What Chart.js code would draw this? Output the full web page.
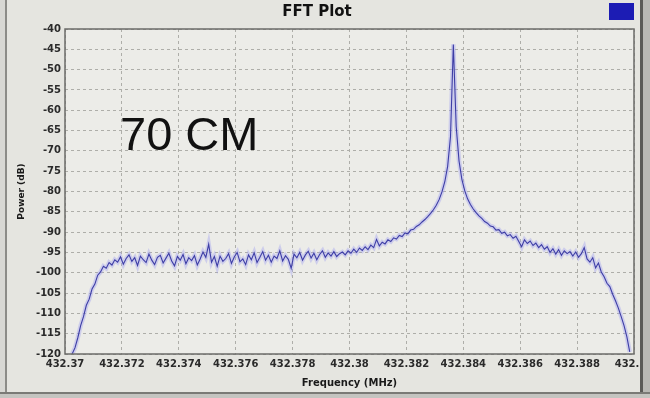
<!DOCTYPE html>
<html>
<head>
<meta charset="utf-8">
<script src="https://cdn.jsdelivr.net/npm/chart.js@4/dist/chart.umd.min.js"></script>
<style>
  html, body { margin: 0; padding: 0; background: #e5e5e0; }
  #wrap { width: 650px; height: 398px; position: relative; }
</style>
</head>
<body>
<div id="wrap"><canvas id="fftChart" width="650" height="398"></canvas></div>
<script>
// Chart text
const chartTitle = 'FFT Plot';
const overlayLabel = '70 CM';
const xAxisTitle = 'Frequency (MHz)';
const yAxisTitle = 'Power (dB)';

// Tick labels
const xTicks = [432.37, 432.372, 432.374, 432.376, 432.378, 432.38, 432.382, 432.384, 432.386, 432.388, 432.39];
const yTicks = [-40, -45, -50, -55, -60, -65, -70, -75, -80, -85, -90, -95, -100, -105, -110, -115, -120];

// FFT bins (MHz)
const freqMHz = [
  432.37025, 432.37035, 432.37045, 432.37055, 432.37065, 432.37075, 432.37085, 432.37095, 432.37105, 432.37115,
  432.37125, 432.37135, 432.37145, 432.37155, 432.37165, 432.37175, 432.37185, 432.37195, 432.37205, 432.37215,
  432.37225, 432.37235, 432.37245, 432.37255, 432.37265, 432.37275, 432.37285, 432.37295, 432.37305, 432.37315,
  432.37325, 432.37335, 432.37345, 432.37355, 432.37365, 432.37375, 432.37385, 432.37395, 432.37405, 432.37415,
  432.37425, 432.37435, 432.37445, 432.37455, 432.37465, 432.37475, 432.37485, 432.37495, 432.37505, 432.37515,
  432.37525, 432.37535, 432.37545, 432.37555, 432.37565, 432.37575, 432.37585, 432.37595, 432.37605, 432.37615,
  432.37625, 432.37635, 432.37645, 432.37655, 432.37665, 432.37675, 432.37685, 432.37695, 432.37705, 432.37715,
  432.37725, 432.37735, 432.37745, 432.37755, 432.37765, 432.37775, 432.37785, 432.37795, 432.37805, 432.37815,
  432.37825, 432.37835, 432.37845, 432.37855, 432.37865, 432.37875, 432.37885, 432.37895, 432.37905, 432.37915,
  432.37925, 432.37935, 432.37945, 432.37955, 432.37965, 432.37975, 432.37985, 432.37995, 432.38005, 432.38015,
  432.38025, 432.38035, 432.38045, 432.38055, 432.38065, 432.38075, 432.38085, 432.38095, 432.38105, 432.38115,
  432.38125, 432.38135, 432.38145, 432.38155, 432.38165, 432.38175, 432.38185, 432.38195, 432.38205, 432.38215,
  432.38225, 432.38235, 432.38245, 432.38255, 432.38265, 432.38275, 432.38285, 432.38295, 432.38305, 432.38315,
  432.38325, 432.38335, 432.38345, 432.38355, 432.38365, 432.38375, 432.38385, 432.38395, 432.38405, 432.38415,
  432.38425, 432.38435, 432.38445, 432.38455, 432.38465, 432.38475, 432.38485, 432.38495, 432.38505, 432.38515,
  432.38525, 432.38535, 432.38545, 432.38555, 432.38565, 432.38575, 432.38585, 432.38595, 432.38605, 432.38615,
  432.38625, 432.38635, 432.38645, 432.38655, 432.38665, 432.38675, 432.38685, 432.38695, 432.38705, 432.38715,
  432.38725, 432.38735, 432.38745, 432.38755, 432.38765, 432.38775, 432.38785, 432.38795, 432.38805, 432.38815,
  432.38825, 432.38835, 432.38845, 432.38855, 432.38865, 432.38875, 432.38885, 432.38895, 432.38905, 432.38915,
  432.38925, 432.38935, 432.38945, 432.38955, 432.38965, 432.38975, 432.38985
];

// Power per bin (dB)
const powerDb = [
  -120.0, -118.5, -116.0, -113.0, -110.8, -108.0, -106.5, -104.0, -102.8, -100.6,
  -99.8, -98.4, -98.9, -97.5, -98.1, -96.8, -97.4, -96.1, -97.9, -96.5,
  -95.6, -97.2, -96.3, -98.2, -95.9, -96.8, -97.5, -95.4, -96.9, -98.0,
  -96.2, -95.7, -97.6, -96.4, -95.2, -97.1, -98.3, -96.0, -96.9, -95.5,
  -97.8, -96.3, -97.0, -95.8, -98.1, -96.6, -94.9, -96.2, -93.0, -97.4,
  -96.0, -98.4, -95.9, -97.2, -96.5, -95.3, -97.7, -96.1, -95.0, -97.3,
  -96.6, -98.0, -95.6, -96.8, -95.1, -97.5, -96.2, -94.8, -96.9, -95.7,
  -97.4, -95.9, -96.5, -94.6, -97.1, -95.8, -96.7, -98.9, -95.4, -96.3,
  -95.0, -96.9, -95.6, -94.7, -96.4, -95.2, -96.8, -95.5, -94.6, -96.2,
  -95.1, -95.9, -94.8, -96.0, -95.3, -94.9, -95.6, -94.6, -95.2, -94.2,
  -95.0, -93.9, -94.5, -93.6, -94.3, -93.2, -93.8, -91.8, -93.4, -92.5,
  -92.9, -91.9, -92.3, -91.4, -91.7, -90.8, -91.1, -90.2, -90.4, -89.5,
  -89.3, -88.6, -88.2, -87.5, -86.9, -86.2, -85.4, -84.5, -83.4, -82.0,
  -80.1, -77.6, -73.8, -66.5, -43.8, -64.0, -72.5, -77.0, -79.8, -81.8,
  -83.2, -84.3, -85.2, -86.0, -86.6, -87.4, -87.8, -88.5, -88.7, -89.5,
  -89.4, -90.3, -90.0, -90.9, -90.6, -91.5, -91.0, -92.3, -93.6, -91.9,
  -92.8, -92.2, -93.3, -92.7, -93.8, -93.1, -94.2, -93.6, -95.0, -94.1,
  -95.4, -94.3, -95.7, -94.6, -95.3, -94.8, -95.9, -94.9, -96.2, -95.3,
  -93.8, -96.6, -97.4, -96.3, -98.8, -97.6, -99.8, -101.0, -102.6, -103.4,
  -105.3, -106.9, -108.7, -110.8, -113.0, -115.8, -119.5
];

const tickFont = { family: 'DejaVu Sans', size: 10, weight: 'bold' };
const points = freqMHz.map((f, i) => ({ x: f, y: powerDb[i] }));

const decorPlugin = {
  id: 'decor',
  beforeDraw(chart) {
    const ctx = chart.ctx;
    const a = chart.chartArea;
    ctx.save();
    ctx.fillStyle = '#e5e5e0';
    ctx.fillRect(0, 0, chart.width, chart.height);
    ctx.fillStyle = '#ecece8';
    ctx.fillRect(a.left, a.top, a.right - a.left, a.bottom - a.top);
    ctx.restore();
  },
  afterDraw(chart) {
    const ctx = chart.ctx;
    const a = chart.chartArea;
    ctx.save();
    // plot frame
    ctx.strokeStyle = '#6b6b68';
    ctx.lineWidth = 1.5;
    ctx.strokeRect(a.left, a.top, a.right - a.left, a.bottom - a.top);
    // legend swatch
    ctx.fillStyle = '#1c1cb4';
    ctx.fillRect(609, 3, 25, 17);
    // big overlay label
    ctx.fillStyle = '#111111';
    ctx.font = '47px "Liberation Sans", Arial, sans-serif';
    ctx.textBaseline = 'alphabetic';
    ctx.fillText(overlayLabel, 120, 150);
    // photo edges
    ctx.fillStyle = '#d8d8d4';
    ctx.fillRect(0, 0, 5, chart.height);
    ctx.fillStyle = '#8c8c88';
    ctx.fillRect(5, 0, 2, chart.height);
    ctx.fillStyle = '#b8b8b4';
    ctx.fillRect(643, 0, 7, chart.height);
    ctx.fillStyle = '#5a5a57';
    ctx.fillRect(640, 0, 3, chart.height);
    ctx.fillStyle = '#7a7a76';
    ctx.fillRect(0, 392, chart.width, 2);
    ctx.fillStyle = '#c4c4c0';
    ctx.fillRect(0, 394, chart.width, 4);
    ctx.restore();
  }
};

new Chart(document.getElementById('fftChart'), {
  type: 'line',
  data: {
    datasets: [
      {
        data: points,
        borderColor: '#3d3da6',
        borderWidth: 1.1,
        pointRadius: 0,
        tension: 0
      },
      {
        data: points,
        borderColor: 'rgba(160, 160, 240, 0.4)',
        borderWidth: 4.5,
        pointRadius: 0,
        tension: 0
      }
    ]
  },
  options: {
    responsive: false,
    animation: false,
    events: [],
    layout: { padding: { left: 0, right: 16, top: 0, bottom: 0 } },
    plugins: {
      legend: { display: false },
      tooltip: { enabled: false },
      title: {
        display: true,
        text: chartTitle,
        color: '#111111',
        font: { family: 'DejaVu Sans', size: 15, weight: 'bold' },
        padding: { top: 3, bottom: 8 }
      }
    },
    scales: {
      x: {
        type: 'linear',
        min: 432.37,
        max: 432.39,
        afterBuildTicks: (s) => { s.ticks = xTicks.map(v => ({ value: v })); },
        afterFit: (s) => { s.height = 44; s.paddingLeft = 0; s.paddingRight = 0; },
        ticks: {
          autoSkip: false,
          maxRotation: 0,
          padding: 4,
          color: '#2a2a2a',
          font: tickFont,
          callback: (v) => String(parseFloat(Number(v).toFixed(3)))
        },
        grid: { color: '#aeaea9', lineWidth: 1, drawTicks: false },
        border: { display: false, dash: [3, 3] },
        title: {
          display: true,
          text: xAxisTitle,
          color: '#1a1a1a',
          font: { family: 'DejaVu Sans', size: 10, weight: 'bold' },
          padding: { top: 0, bottom: 9 }
        }
      },
      y: {
        min: -120,
        max: -40,
        afterBuildTicks: (s) => { s.ticks = yTicks.map(v => ({ value: v })); },
        afterFit: (s) => { s.width = 65; s.paddingTop = 0; s.paddingBottom = 0; },
        ticks: {
          autoSkip: false,
          padding: 4,
          color: '#2a2a2a',
          font: tickFont
        },
        grid: { color: '#aeaea9', lineWidth: 1, drawTicks: false },
        border: { display: false, dash: [3, 3] },
        title: {
          display: true,
          text: yAxisTitle,
          color: '#1a1a1a',
          font: { family: 'DejaVu Sans', size: 9, weight: 'bold' },
          padding: { top: 16.5, bottom: 0 }
        }
      }
    }
  },
  plugins: [decorPlugin]
});
</script>
</body>
</html>
